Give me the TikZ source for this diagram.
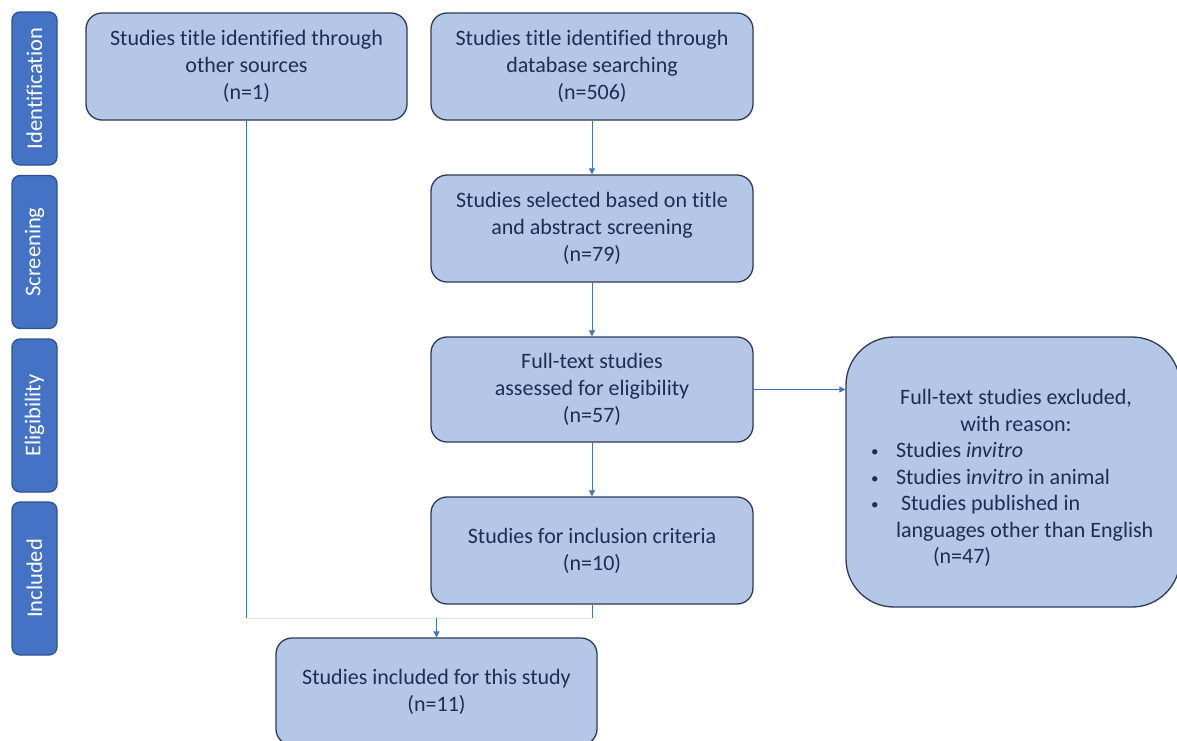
\documentclass[tikz,border=0pt]{standalone}
\usepackage{fontspec}
\setmainfont[RawFeature={-liga;-clig;-calt;-dlig}]{Carlito}
\usetikzlibrary{arrows.meta}
\definecolor{barfill}{HTML}{4472C4}
\definecolor{barline}{HTML}{2F528F}
\definecolor{boxfill}{HTML}{B4C7E7}
\definecolor{boxline}{HTML}{2F3A56}
\definecolor{txtcol}{HTML}{1F2D50}
\definecolor{conn}{HTML}{4472C4}
\definecolor{faintline}{HTML}{E6E6E6}
\newcommand{\smbullet}{\raisebox{1pt}{\fontsize{15}{15}\selectfont\textbullet}}
\begin{document}
\begin{tikzpicture}[x=1pt,y=-1pt,
  box/.style={draw=boxline, line width=1.3pt, fill=boxfill, rounded corners=16pt,
    text=txtcol, font=\fontsize{22}{27}\selectfont, align=center, inner sep=0pt},
  phase/.style={draw=barline, line width=1.3pt, fill=barfill, rounded corners=8pt,
    minimum width=153pt, minimum height=45pt, text=white,
    font=\fontsize{22.5}{27}\selectfont, rotate=90, inner sep=0pt},
  link/.style={draw=conn, line width=0.8pt},
  faint/.style={draw=faintline, line width=0.8pt},
  arr/.style={link, -{Triangle[width=6pt,length=6pt]}}]
\clip (0,0) rectangle (1177,740);
\fill[white] (0,0) rectangle (1177,740);

% phase bars
\node[phase] (p1) at (34.5,88.5) {Identification};
\node[phase] (p2) at (34.5,252) {Screening};
\node[phase] (p3) at (34.5,415.5) {Eligibility};
\node[phase] (p4) at (34.5,578.5) {Included};

% boxes
\node[box, minimum width=321pt, minimum height=107pt] (A) at (246.5,66.5)
  {Studies title identified through\\other sources\\(n=1)};
\node[box, minimum width=322pt, minimum height=107pt] (B) at (592,66.5)
  {Studies title identified through\\database searching\\(n=506)};
\node[box, minimum width=322pt, minimum height=107pt] (C) at (592,228.5)
  {Studies selected based on title\\and abstract screening\\(n=79)};
\node[box, minimum width=322pt, minimum height=105pt] (D) at (592,389.5)
  {Full-text studies\\assessed for eligibility\\(n=57)};
\node[box, minimum width=322pt, minimum height=107pt] (E) at (592,550.5)
  {Studies for inclusion criteria\\(n=10)};
\node[box, minimum width=334pt, minimum height=270pt, rounded corners=48pt] (F) at (1013,472) {};
\node[text=txtcol, font=\fontsize{22}{26.5}\selectfont, align=left, inner sep=0pt] (Ft) at (1016,478)
  {\makebox[290pt][c]{Full-text studies excluded,}\\
   \makebox[290pt][c]{with reason:}\\
   \makebox[25pt][l]{\smbullet}Studies \textit{invitro}\\
   \makebox[25pt][l]{\smbullet}Studies i\textit{nvitro} in animal\\
   \makebox[25pt][l]{\smbullet}\hspace{5pt}Studies published in\\
   \hspace*{25pt}languages other than English\\
   \hspace*{62pt}(n=47)};
\node[box, minimum width=321pt, minimum height=107pt] (G) at (436.5,691.5)
  {Studies included for this study\\(n=11)};

% connectors
\coordinate (J) at (436.5,618);
\draw[arr] (B.south) -- (C.north);
\draw[arr] (C.south) -- (D.north);
\draw[arr] (D.south) -- (E.north);
\draw[arr] (D.east) -- (D.east -| F.west);
\draw[faint] (A.south |- J) -- (E.south |- J);
\draw[link] (A.south) -- (A.south |- J);
\draw[link] (E.south) -- (E.south |- J);
\draw[arr] (J) -- (G.north);
\end{tikzpicture}
\end{document}
